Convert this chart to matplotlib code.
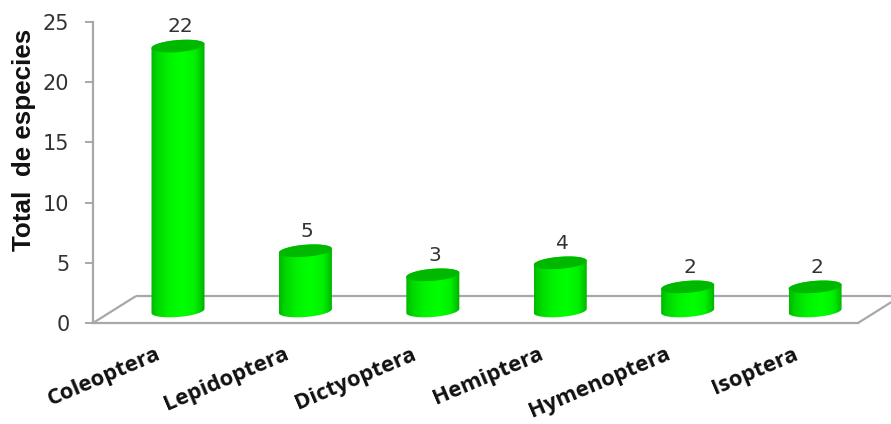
import numpy as np
import matplotlib
matplotlib.use("Agg")
import matplotlib.pyplot as plt
from matplotlib.colors import LinearSegmentedColormap
from matplotlib.patches import PathPatch, Polygon
from matplotlib.path import Path
from matplotlib.transforms import ScaledTranslation

categories = ["Coleoptera", "Lepidoptera", "Dictyoptera", "Hemiptera", "Hymenoptera", "Isoptera"]
species = [22, 5, 3, 4, 2, 2]
y_ticks = [0, 5, 10, 15, 20, 25]

W, H = 891, 424
GRID = "#a8a8a8"
TEXT = "#333333"

fig = plt.figure(figsize=(W / 100, H / 100), dpi=100)
ax = fig.add_axes([93 / W, 1 - 323 / H, (858 - 93) / W, (323 - 22) / H])
ax.set_ylim(0, 25)
ax.set_xlim(-0.667, 5.337)
ax.patch.set_visible(False)

# pseudo-3D floor: depth offsets in data units
depth_x, depth_y = 0.3375, 2.24
left, right = ax.get_xlim()
floor_style = dict(color=GRID, lw=1.6, clip_on=False, zorder=1, solid_capstyle="butt")
ax.plot([left, left + depth_x], [0, depth_y], **floor_style)
ax.plot([right, right + depth_x], [0, depth_y], **floor_style)
ax.plot([left + depth_x, right + depth_x], [depth_y, depth_y], **floor_style)

# cylinders
half_w = 0.208        # half width in category units
cap_h = 0.50          # cap vertical radius in value units
tilt = 0.17           # upward lean of the cap towards its right side
base = 1.0            # height of the cylinder foot above the front floor line
body_cmap = LinearSegmentedColormap.from_list(
    "body",
    [(0.0, "#00b800"), (0.12, "#00d800"), (0.35, "#00f400"), (0.6, "#00ff00"),
     (0.82, "#00f000"), (0.94, "#00c800"), (1.0, "#00a800")],
)
shade = np.linspace(0, 1, 128)[None, :]
t = np.linspace(0, 2 * np.pi, 121)

for i, v in enumerate(species):
    top = base + v
    # lower half of the foot ellipse, walked left to right
    tb = np.linspace(np.pi, 2 * np.pi, 60)
    xb = i + half_w * np.cos(tb)
    yb = base + cap_h * np.sin(tb) + tilt * np.cos(tb)
    # upper half of the top ellipse, walked right to left
    tt = np.linspace(0, np.pi, 60)
    xt = i + half_w * np.cos(tt)
    yt = top + cap_h * np.sin(tt) + tilt * np.cos(tt)
    outline = Path(np.column_stack([np.r_[xb, xt], np.r_[yb, yt]]))
    patch = PathPatch(outline, fc="none", ec="none", zorder=3)
    ax.add_patch(patch)
    img = ax.imshow(shade, cmap=body_cmap, extent=[i - half_w, i + half_w, base - 1, top + 1],
                    aspect="auto", zorder=3, interpolation="bilinear")
    img.set_clip_path(patch)
    cap = np.column_stack([i + half_w * np.cos(t),
                           top + cap_h * np.sin(t) + tilt * np.cos(t)])
    ax.add_patch(Polygon(cap, closed=True, fc="#00b800", ec="none", zorder=4))
    ax.text(i + 0.015, top + cap_h + 0.32, str(v), ha="center", va="bottom",
            fontsize=14.5, color=TEXT, family="DejaVu Sans", zorder=5)

ax.set_xlim(left, right)
ax.set_ylim(0, 25)

for name in ("top", "right"):
    ax.spines[name].set_visible(False)
for name in ("left", "bottom"):
    ax.spines[name].set_color(GRID)
    ax.spines[name].set_linewidth(1.6)

ax.set_yticks(y_ticks)
ax.tick_params(axis="y", length=6, width=1.4, color=GRID, pad=11,
               labelsize=15, labelcolor=TEXT)

ax.set_xticks(range(len(categories)))
ax.set_xticklabels(categories, rotation=23, ha="right", rotation_mode="anchor",
                   fontsize=15.8, fontweight="bold", family="Open Sans", color="#111111")
ax.tick_params(axis="x", length=0, pad=15)
shift = ScaledTranslation(-22 / 100, 0, fig.dpi_scale_trans)
for lab in ax.get_xticklabels():
    lab.set_transform(lab.get_transform() + shift)

fig.text(24 / W, 1 - 140 / H, "Total  de especies", rotation=90, ha="center", va="center",
         fontsize=18.7, fontweight="bold", family="Liberation Sans", color="#111111")

fig.savefig("out.png", dpi=100)
